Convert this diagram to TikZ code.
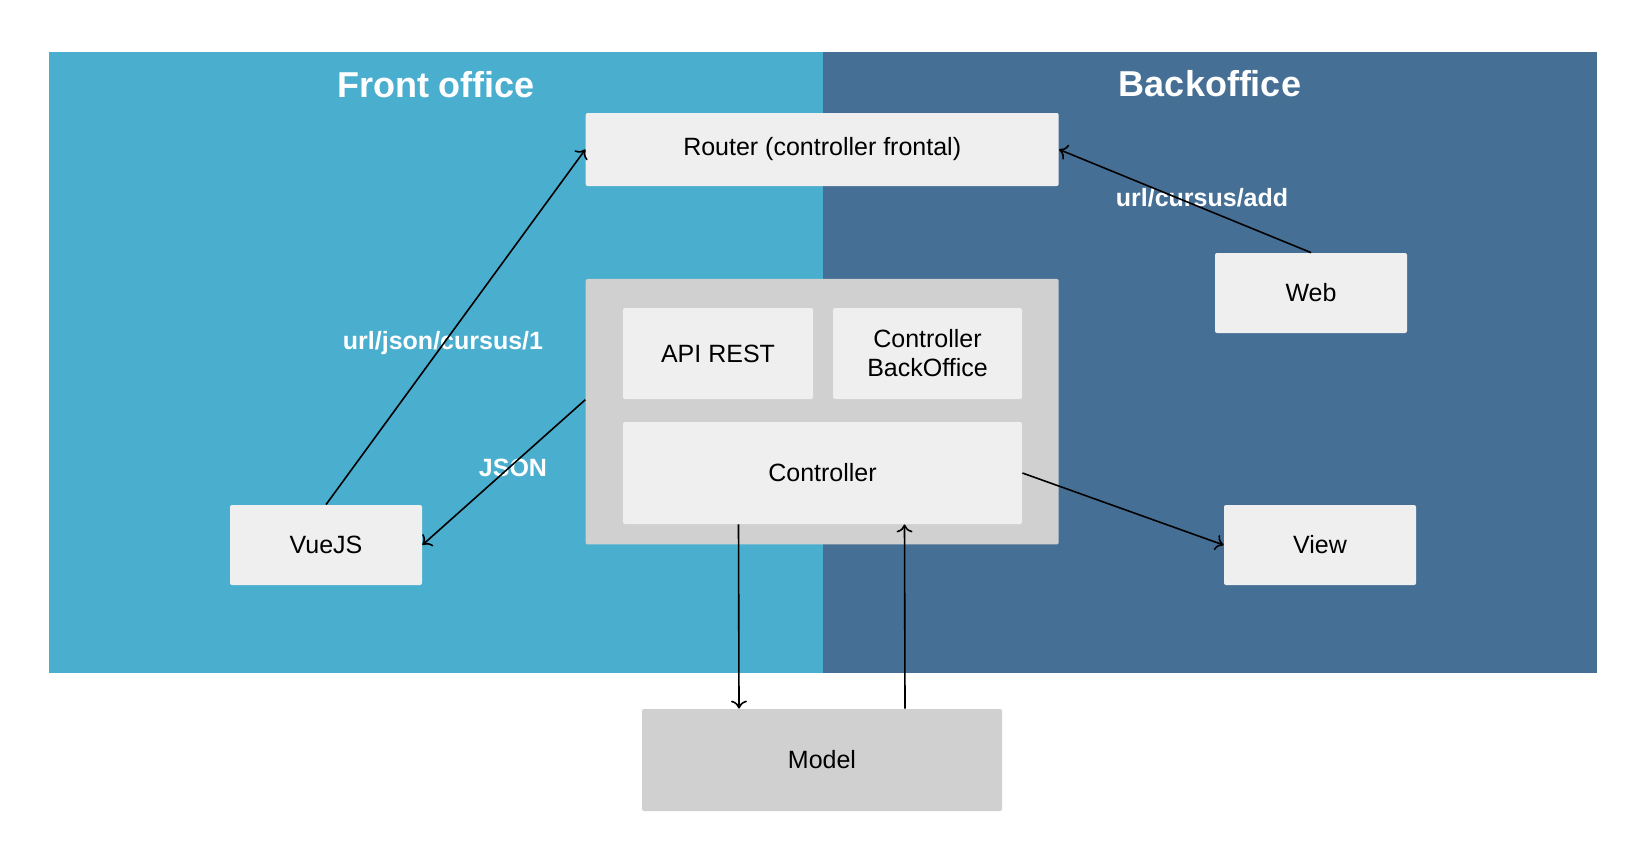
\documentclass[tikz,border=0pt]{standalone}
\usepackage{fontspec}
\setmainfont{Liberation Sans}
\usepackage{xcolor}
\usetikzlibrary{arrows.meta}
\definecolor{frontblue}{HTML}{4AAECE}
\definecolor{backblue}{HTML}{466F95}
\definecolor{boxgray}{HTML}{EFEFEF}
\definecolor{modelgray}{HTML}{D0D0D0}

\begin{document}
\begin{tikzpicture}[x=0.5pt, y=-0.5pt,
		box/.style={fill=boxgray, rounded corners=1pt, inner sep=0pt, align=center, font=\fontsize{12.5}{14.5}\selectfont},
		title/.style={text=white, anchor=base, font=\fontsize{18}{20}\selectfont\bfseries},
		lbl/.style={text=white, anchor=base, font=\fontsize{12.5}{14}\selectfont\bfseries},
		arr/.style={-{To[length=4pt, width=8pt]}, line width=0.8pt}]
		\useasboundingbox (0,0) rectangle (1648,863);
		\fill[frontblue] (49,52) rectangle (823,673);
		\fill[backblue] (823,52) rectangle (1597,673);
		\node[title] (front) at (436,97) {Front office};
		\node[title] (back) at (1210,96) {Backoffice};
		\node[box, minimum width=236.5pt, minimum height=36.5pt] (router) at (822.2,149.5) {Router (controller frontal)};
		\node[box, fill=modelgray, minimum width=236.5pt, minimum height=132.75pt] (container) at (822.2,411.7) {};
		\node[box, minimum width=95pt, minimum height=45.5pt] (api) at (718,353.5) {API REST};
		\node[box, minimum width=94.5pt, minimum height=45.5pt] (cbo) at (927.5,353.5) {Controller\\BackOffice};
		\node[box, minimum width=199.5pt, minimum height=51pt] (controller) at (822.5,473) {Controller};
		\node[box, minimum width=96pt, minimum height=40pt] (vue) at (326,545) {VueJS};
		\node[box, minimum width=96pt, minimum height=40pt] (web) at (1311,293) {Web};
		\node[box, minimum width=96pt, minimum height=40pt] (view) at (1320,545) {View};
		\node[box, fill=modelgray, minimum width=180pt, minimum height=51pt] (model) at (822,760) {Model};
		\node[lbl] (urljson) at (443,349) {url/json/cursus/1};
		\node[lbl] (json) at (513,476.5) {JSON};
		\node[lbl] (urladd) at (1202,206.5) {url/cursus/add};
		\draw[arr] (vue.north) -- (router.west);
		\draw[arr] ([yshift=6pt]container.west) -- (vue.east);
		\draw[arr] (web.north) -- (router.east);
		\draw[arr] (controller.east) -- (view.west);
		\draw[arr] ([xshift=-42pt]controller.south) -- ([xshift=-41.5pt]model.north);
		\draw[arr] ([xshift=41.5pt]model.north) -- ([xshift=41pt]controller.south);
		\end{tikzpicture}
\end{document}
